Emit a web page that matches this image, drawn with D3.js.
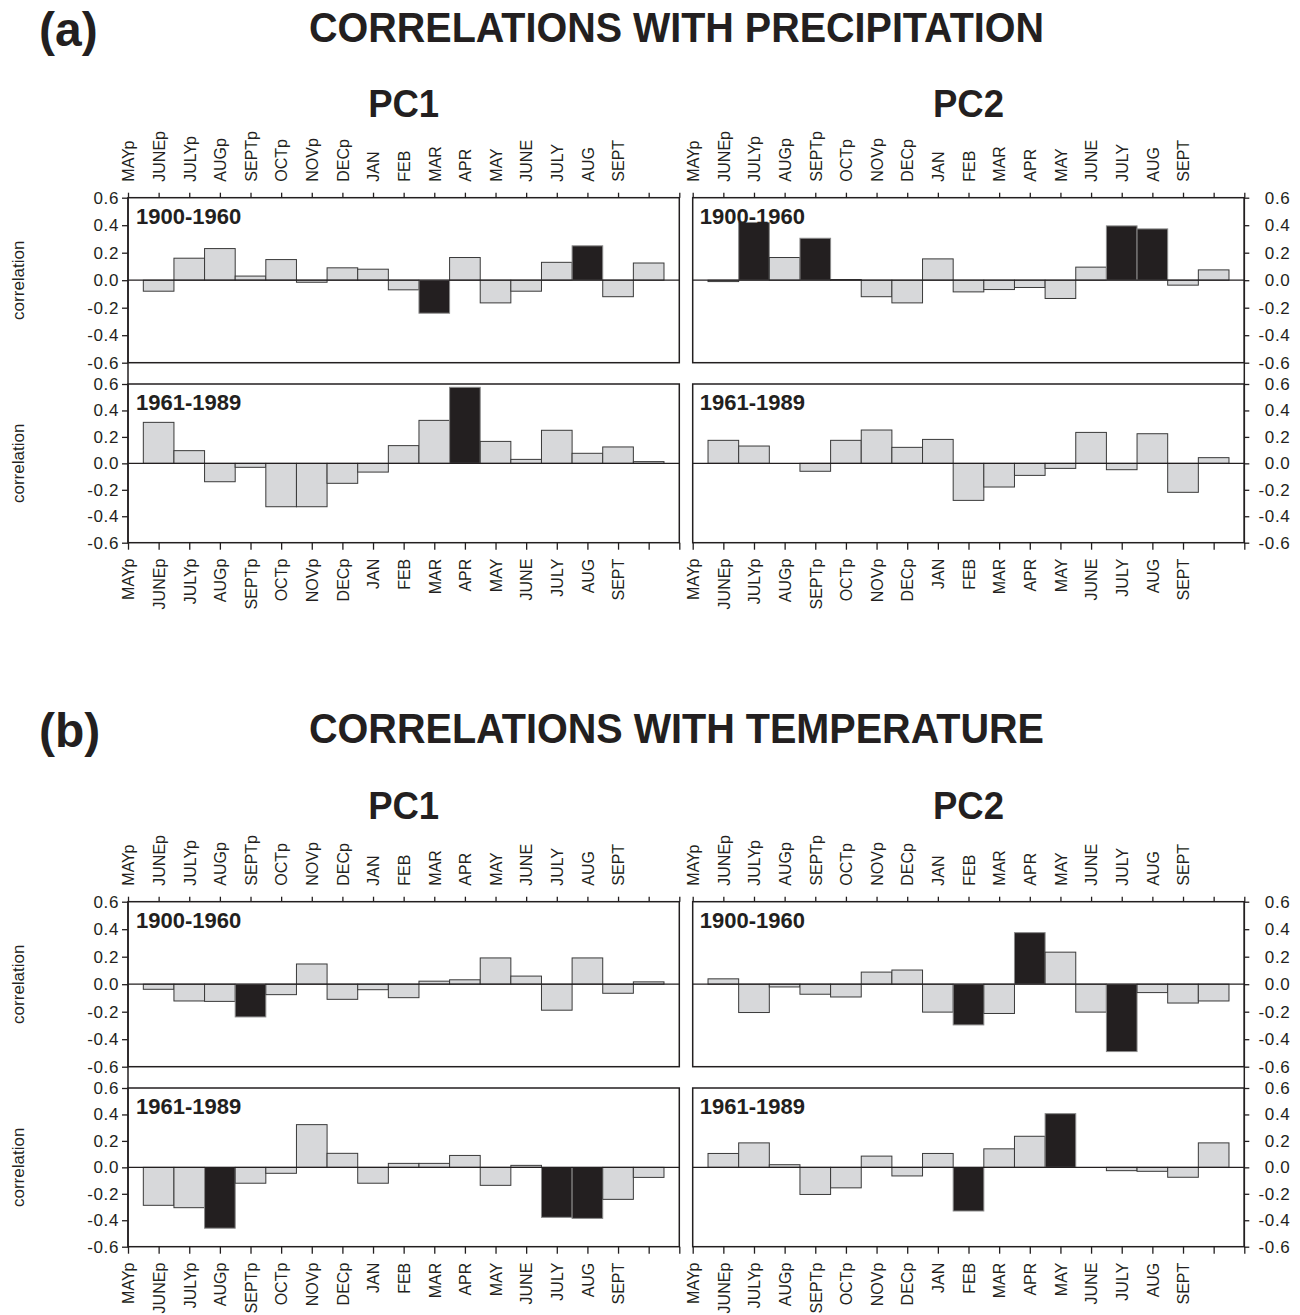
<!DOCTYPE html>
<html>
<head>
<meta charset="utf-8">
<script src="https://cdn.jsdelivr.net/npm/d3@7"></script>
<style>
  html, body { margin: 0; padding: 0; background: #fff; }
  svg { display: block; font-family: "Liberation Sans", Arial, Helvetica, sans-serif; }
</style>
</head>
<body>
<svg id="chart" width="1300" height="1315"></svg>
<script>
// ---------------- DATA ----------------
const months = ["MAYp","JUNEp","JULYp","AUGp","SEPTp","OCTp","NOVp","DECp","JAN","FEB","MAR","APR","MAY","JUNE","JULY","AUG","SEPT"];
const yTicks = [-0.6, -0.4, -0.2, 0.0, 0.2, 0.4, 0.6];
const sectionTitles = ["CORRELATIONS WITH PRECIPITATION", "CORRELATIONS WITH TEMPERATURE"];
const sectionTags = ["(a)", "(b)"];
const pcNames = ["PC1", "PC2"];
const periods = ["1900-1960", "1961-1989"];

// Precipitation
const precipPC1_1900 = [-0.08, 0.16, 0.23, 0.03, 0.15, -0.015, 0.09, 0.08, -0.07, -0.24, 0.165, -0.165, -0.08, 0.13, 0.25, -0.12, 0.125];
const precipPC1_1900_sig = [0,0,0,0,0,0,0,0,0,1,0,0,0,0,1,0,0];
const precipPC2_1900 = [-0.01, 0.42, 0.165, 0.305, 0.005, -0.12, -0.165, 0.155, -0.085, -0.068, -0.053, -0.133, 0.095, 0.395, 0.373, -0.036, 0.075];
const precipPC2_1900_sig = [0,1,0,1,0,0,0,0,0,0,0,0,0,1,1,0,0];
const precipPC1_1961 = [0.31, 0.096, -0.139, -0.03, -0.328, -0.328, -0.151, -0.066, 0.134, 0.325, 0.575, 0.166, 0.03, 0.25, 0.076, 0.124, 0.013];
const precipPC1_1961_sig = [0,0,0,0,0,0,0,0,0,0,1,0,0,0,0,0,0];
const precipPC2_1961 = [0.174, 0.131, 0.0, -0.06, 0.174, 0.252, 0.121, 0.181, -0.28, -0.179, -0.091, -0.038, 0.234, -0.048, 0.224, -0.219, 0.043];
const precipPC2_1961_sig = [0,0,0,0,0,0,0,0,0,0,0,0,0,0,0,0,0];

// Temperature
const tempPC1_1900 = [-0.037, -0.122, -0.125, -0.238, -0.076, 0.147, -0.11, -0.04, -0.098, 0.022, 0.032, 0.191, 0.059, -0.189, 0.191, -0.066, 0.017];
const tempPC1_1900_sig = [0,0,0,1,0,0,0,0,0,0,0,0,0,0,0,0,0];
const tempPC2_1900 = [0.039, -0.206, -0.02, -0.073, -0.093, 0.088, 0.103, -0.203, -0.296, -0.213, 0.375, 0.233, -0.203, -0.49, -0.061, -0.137, -0.122];
const tempPC2_1900_sig = [0,0,0,0,0,0,0,0,1,0,1,0,0,1,0,0,0];
const tempPC1_1961 = [-0.287, -0.305, -0.46, -0.12, -0.045, 0.323, 0.106, -0.12, 0.03, 0.03, 0.09, -0.136, 0.015, -0.378, -0.386, -0.242, -0.076];
const tempPC1_1961_sig = [0,0,1,0,0,0,0,0,0,0,0,0,0,1,1,0,0];
const tempPC2_1961 = [0.105, 0.185, 0.02, -0.205, -0.155, 0.085, -0.065, 0.105, -0.33, 0.14, 0.235, 0.406, 0.0, -0.025, -0.03, -0.075, 0.185];
const tempPC2_1961_sig = [0,0,0,0,0,0,0,0,1,0,0,1,0,0,0,0,0];

// ---------------- LAYOUT ----------------
const INK = "#231f20";
const GRAY = "#d7d8da";
const FONT = "'Liberation Sans', Arial, Helvetica, sans-serif";
const svg = d3.select("#chart");

const cols = [{x0: 128, x1: 679.3}, {x0: 692.7, x1: 1244.3}];
const sectionOffset = [0, 704];
const rows = [{y0: 197.7, y1: 362.7}, {y0: 384, y1: 542.7}];

const panels = [
  [0, 0, 0, precipPC1_1900, precipPC1_1900_sig],
  [0, 1, 0, precipPC2_1900, precipPC2_1900_sig],
  [0, 0, 1, precipPC1_1961, precipPC1_1961_sig],
  [0, 1, 1, precipPC2_1961, precipPC2_1961_sig],
  [1, 0, 0, tempPC1_1900, tempPC1_1900_sig],
  [1, 1, 0, tempPC2_1900, tempPC2_1900_sig],
  [1, 0, 1, tempPC1_1961, tempPC1_1961_sig],
  [1, 1, 1, tempPC2_1961, tempPC2_1961_sig]
];

const fmt = d => d.toFixed(1);

// Titles
sectionTitles.forEach((t, s) => {
  const off = sectionOffset[s] - (s ? 3 : 0);
  svg.append("text").attr("x", 39).attr("y", 46 + off)
    .attr("font-size", 48).attr("font-weight", "bold").attr("fill", INK)
    .text(sectionTags[s]);
  svg.append("text").attr("x", 676.5).attr("y", 42 + off)
    .attr("text-anchor", "middle")
    .attr("font-size", 42).attr("font-weight", "bold").attr("fill", INK)
    .attr("textLength", 735).attr("lengthAdjust", "spacingAndGlyphs")
    .text(t);
  pcNames.forEach((p, c) => {
    svg.append("text").attr("x", (cols[c].x0 + cols[c].x1) / 2).attr("y", 117 + sectionOffset[s] - (s ? 2 : 0))
      .attr("text-anchor", "middle")
      .attr("font-size", 38).attr("font-weight", "bold").attr("fill", INK)
      .attr("textLength", 71).attr("lengthAdjust", "spacingAndGlyphs")
      .text(p);
  });
  // continuous left/right axis lines across both rows
  [cols[0].x0, cols[1].x1].forEach(xx => {
    svg.append("line")
      .attr("x1", xx).attr("x2", xx)
      .attr("y1", rows[0].y0 + sectionOffset[s]).attr("y2", rows[1].y1 + sectionOffset[s])
      .attr("stroke", INK).attr("stroke-width", 1.5);
  });
});

panels.forEach(([s, c, r, vals, sig]) => {
  const {x0, x1} = cols[c];
  const y0 = rows[r].y0 + sectionOffset[s];
  const y1 = rows[r].y1 + sectionOffset[s];
  const x = d3.scaleLinear().domain([0, 18]).range([x0, x1]);
  const y = d3.scaleLinear().domain([-0.6, 0.6]).range([y1, y0]);
  const g = svg.append("g");

  // bars (bar i centred on tick i+1)
  g.selectAll("rect.bar").data(vals).join("rect")
    .attr("class", "bar")
    .attr("x", (d, i) => x(i + 0.5))
    .attr("width", (d, i) => x(i + 1.5) - x(i + 0.5))
    .attr("y", d => y(Math.max(0, d)))
    .attr("height", d => Math.abs(y(d) - y(0)))
    .attr("fill", (d, i) => sig[i] ? INK : GRAY)
    .attr("stroke", (d, i) => sig[i] ? "#8a8a8a" : "#3a3a3a")
    .attr("stroke-width", 1);

  // zero line
  g.append("line").attr("x1", x0).attr("x2", x1).attr("y1", y(0)).attr("y2", y(0))
    .attr("stroke", INK).attr("stroke-width", 1.3);

  // frame
  g.append("rect").attr("x", x0).attr("y", y0).attr("width", x1 - x0).attr("height", y1 - y0)
    .attr("fill", "none").attr("stroke", INK).attr("stroke-width", 1.5);

  // period label
  g.append("text").attr("x", x0 + (c ? 7 : 8)).attr("y", y0 + 26)
    .attr("font-size", 22).attr("font-weight", "bold").attr("fill", INK)
    .text(periods[r]);

  // y axis
  if (c === 0) {
    const ax = g.append("g").attr("transform", `translate(${x0},0)`)
      .call(d3.axisLeft(y).tickValues(yTicks).tickSize(6).tickPadding(3).tickFormat(fmt));
    ax.select(".domain").remove();
    ax.selectAll("line").attr("stroke", INK).attr("stroke-width", 1.3);
    ax.selectAll("text").attr("font-size", 17).attr("letter-spacing", 0.6)
      .attr("font-family", FONT).attr("fill", INK);
    g.append("text")
      .attr("transform", `translate(18,${(y0 + y1) / 2}) rotate(-90)`)
      .attr("text-anchor", "middle").attr("dy", "0.35em")
      .attr("font-size", 17).attr("fill", INK)
      .text("correlation");
  } else {
    const ax = g.append("g").attr("transform", `translate(${x1},0)`)
      .call(d3.axisRight(y).tickValues(yTicks).tickSize(5).tickFormat(fmt));
    ax.select(".domain").remove();
    ax.selectAll("line").attr("stroke", INK).attr("stroke-width", 1.3);
    ax.selectAll("text").attr("font-size", 17).attr("letter-spacing", 0.6)
      .attr("font-family", FONT).attr("fill", INK)
      .attr("text-anchor", "end").attr("x", 46);
  }

  // month axes
  if (r === 0) {
    const ax = g.append("g").attr("transform", `translate(0,${y0})`)
      .call(d3.axisTop(x).tickValues(d3.range(19)).tickSize(5).tickFormat(i => months[i] || ""));
    ax.select(".domain").remove();
    ax.selectAll("line").attr("stroke", INK).attr("stroke-width", 1.3);
    ax.selectAll("text").attr("font-size", 16).attr("font-family", FONT).attr("fill", INK)
      .attr("x", 0).attr("y", 0).attr("dy", "0.36em")
      .attr("text-anchor", "start")
      .attr("transform", "translate(0,-16) rotate(-90)");
  } else {
    const ax = g.append("g").attr("transform", `translate(0,${y1})`)
      .call(d3.axisBottom(x).tickValues(d3.range(19)).tickSize(7).tickFormat(i => months[i] || ""));
    ax.select(".domain").remove();
    ax.selectAll("line").attr("stroke", INK).attr("stroke-width", 1.3);
    ax.selectAll("text").attr("font-size", 16).attr("font-family", FONT).attr("fill", INK)
      .attr("x", 0).attr("y", 0).attr("dy", "0.36em")
      .attr("text-anchor", "end")
      .attr("transform", "translate(0,16) rotate(-90)");
  }
});
</script>
</body>
</html>
